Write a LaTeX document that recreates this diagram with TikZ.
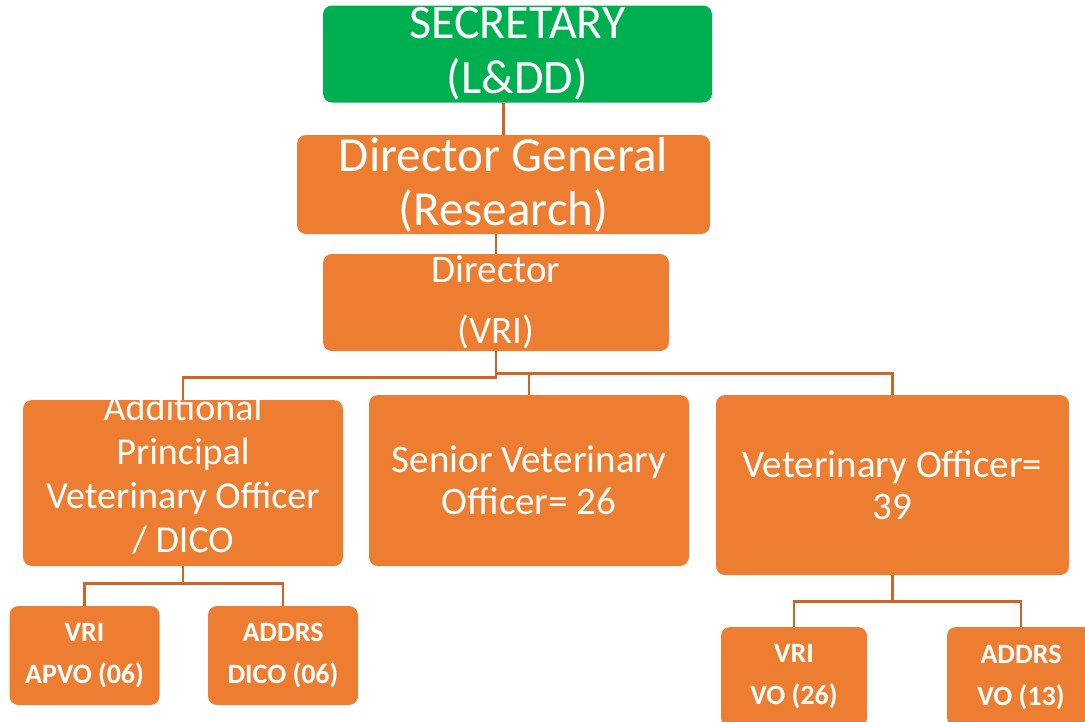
\documentclass[tikz,border=0pt]{standalone}
\usepackage{fontspec}
\setmainfont{Carlito}
\usepackage{tikz}
\usetikzlibrary{positioning,calc}
\usepackage{xcolor}

\definecolor{boxorange}{RGB}{237,125,49}
\definecolor{boxgreen}{RGB}{0,176,80}
\definecolor{linkorange}{RGB}{204,102,36}

\begin{document}
\begin{tikzpicture}[x=1pt,y=-1pt,
    box/.style={fill=boxorange, rounded corners=9pt, text=white, align=center, inner sep=0pt},
    bigtext/.style={font=\fontsize{39}{42}\selectfont},
    smallbox/.style={box, minimum width=150pt, minimum height=99pt, font=\bfseries\fontsize{28}{42}\selectfont},
    link/.style={draw=linkorange, line width=2.6pt}]
    \useasboundingbox (0,0) rectangle (1085,721);
    \clip (0,0) rectangle (1085,721);
    % top of the chart
    \node[box, fill=boxgreen, minimum width=389pt, minimum height=97pt,
          font=\fontsize{48}{55}\selectfont] (sec) at (517.5,54) {SECRETARY\\(L\&DD)};
    \node[box, minimum width=413pt, minimum height=99pt,
          font=\fontsize{49}{54}\selectfont] (dg) at (503.5,184.5) {Director General\\(Research)};
    \node[box, minimum width=346pt, minimum height=97pt,
          font=\fontsize{39}{61}\selectfont] (dir) at (496,302.5) {Director\\(VRI)};
    % middle row
    \node[box, minimum width=320pt, minimum height=166pt] (apvo) at (183,483) {};
    \node[text=white, align=center, font=\fontsize{38}{44}\selectfont] (apvotext) at (183,474)
        {Additional\\Principal\\Veterinary Officer\\/ DICO};
    \node[box, bigtext, minimum width=320pt, minimum height=171pt] (svo) at (529,480.5)
        {Senior Veterinary\\Officer= 26};
    \node[box, bigtext, minimum width=353pt, minimum height=180pt] (vo) at (892.5,485)
        {Veterinary Officer=\\39};
    % bottom row
    \node[smallbox] (vri1) at (84.5,655.5) {VRI\\APVO (06)};
    \node[smallbox] (addrs1) at (283,655.5) {ADDRS\\DICO (06)};
    \node[smallbox, minimum width=146pt, minimum height=100pt] (vri2) at (794,677) {VRI\\VO (26)};
    \node[smallbox, minimum width=148pt, minimum height=100pt] (addrs2) at (1021,677) {ADDRS\\VO (13)};
    % connectors
    \draw[link] (dg.north |- sec.south) -- (dg.north);
    \draw[link] (dir.north |- dg.south) -- (dir.north);
    \draw[link] (dir.south) -- ++(0,26) -| (apvo.north);
    \draw[link] (dir.south) -- ++(0,22) -| (svo.north);
    \draw[link] (dir.south) -- ++(0,22) -| (vo.north);
    \draw[link] (apvo.south) -- ++(0,17) -| (vri1.north);
    \draw[link] (apvo.south) -- ++(0,17) -| (addrs1.north);
    \draw[link] (vo.south) -- ++(0,26) -| (vri2.north);
    \draw[link] (vo.south) -- ++(0,26) -| (addrs2.north);
\end{tikzpicture}
\end{document}
